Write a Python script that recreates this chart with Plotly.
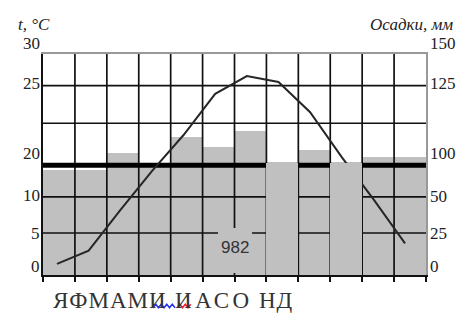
import plotly.graph_objects as go

# ---------------- data ----------------
months = ["Я", "Ф", "М", "А", "М", "И", "И", "А", "С", "О", "Н", "Д"]
temperature = [1.5, 3.3, 8.8, 14.1, 19.0, 24.6, 27.0, 26.2, 22.1, 16.0, 10.3, 4.3]   # on 0-30 axis
precipitation = [71, 71, 83, 75, 94, 87, 98, 76, 85, 76, 80, 80]                   # on 0-150 axis
front_months = [7, 9]          # bars that are drawn over the grid
total_label = "982"
temp_tick_labels = ["30", "25", "20", "10", "5", "0"]
precip_tick_labels = ["150", "125", "100", "50", "25", "0"]
grid_temp = [25.7, 20.6, 10.6, 5.7]   # thin horizontal grid lines (temperature units)
thick_temp = 14.9                     # thick horizontal line
TEMP_MAX, PREC_MAX = 30, 150
RATIO = PREC_MAX / TEMP_MAX

# ---------------- geometry helpers (page pixels -> paper) ----------------
OFF = 8                      # body margin of the html page
W, H = 473 - OFF, 318 - OFF
PLOT_X0, PLOT_X1, PLOT_Y0, PLOT_Y1 = 43, 426, 54, 275   # page pixels
L = PLOT_X0 - OFF
T = PLOT_Y0 - OFF
PW = PLOT_X1 - PLOT_X0
PH = PLOT_Y1 - PLOT_Y0
R = W - L - PW
B = H - T - PH


def px(x):
    return (x - PLOT_X0) / PW


def py(y):
    return (PLOT_Y1 - y) / PH


idx = list(range(len(months)))

fig = go.Figure()

# base bars (under the grid)
base_vals = [None if i in front_months else v for i, v in enumerate(precipitation)]
fig.add_trace(go.Bar(x=idx, y=base_vals, width=1, marker=dict(color="#c0c0c0", line=dict(width=0)),
                     xaxis="x", yaxis="y", showlegend=False, hoverinfo="skip"))

# grid lines (above base bars)
gx, gy = [], []
for g in grid_temp:
    gx += [-0.5, len(months) - 0.5, None]
    gy += [g * RATIO, g * RATIO, None]
for k in range(1, len(months)):
    gx += [k - 0.5, k - 0.5, None]
    gy += [0, PREC_MAX, None]
fig.add_trace(go.Scatter(x=gx, y=gy, mode="lines", line=dict(color="#111111", width=1.7),
                         xaxis="x", yaxis="y", showlegend=False, hoverinfo="skip"))
fig.add_trace(go.Scatter(x=[-0.5, len(months) - 0.5], y=[thick_temp * RATIO] * 2, mode="lines",
                         line=dict(color="#000000", width=5),
                         xaxis="x", yaxis="y", showlegend=False, hoverinfo="skip"))

# temperature line
fig.add_trace(go.Scatter(x=idx, y=temperature, mode="lines", line=dict(color="#262626", width=2),
                         xaxis="x2", yaxis="y2", showlegend=False, hoverinfo="skip"))

# front bars (over everything)
fig.add_trace(go.Bar(x=front_months, y=[precipitation[i] for i in front_months], width=1,
                     marker=dict(color="#c0c0c0", line=dict(width=0)),
                     xaxis="x3", yaxis="y3", showlegend=False, hoverinfo="skip"))

serif = "Liberation Serif, Times New Roman, serif"
ann = []
left_y = [44, 83, 153, 195, 233, 266]
right_y = [44, 83, 153, 196, 233, 266]
for t, yy in zip(temp_tick_labels, left_y):
    ann.append(dict(x=px(41), y=py(yy), xref="paper", yref="paper", text=t, showarrow=False,
                    xanchor="right", yanchor="middle", borderpad=0,
                    font=dict(family=serif, size=17, color="#222")))
for t, yy in zip(precip_tick_labels, right_y):
    ann.append(dict(x=px(429), y=py(yy), xref="paper", yref="paper", text=t, showarrow=False,
                    xanchor="left", yanchor="middle", borderpad=0,
                    font=dict(family=serif, size=17, color="#222")))
ann.append(dict(x=px(17), y=py(24), xref="paper", yref="paper", text="<i>t, °C</i>", showarrow=False,
                xanchor="left", yanchor="middle", borderpad=0,
                font=dict(family=serif, size=17, color="#222")))
ann.append(dict(x=px(454), y=py(24), xref="paper", yref="paper", text="<i>Осадки, мм</i>", showarrow=False,
                xanchor="right", yanchor="middle", borderpad=0,
                font=dict(family=serif, size=17, color="#222")))
# total precipitation box
ann.append(dict(x=px(235), y=py(250.5), xref="paper", yref="paper", text=" ", showarrow=False,
                width=34, height=45, bgcolor="#c0c0c0", borderpad=0, borderwidth=0,
                xanchor="center", yanchor="middle"))
ann.append(dict(x=px(235), y=py(247), xref="paper", yref="paper", text=total_label, showarrow=False,
                xanchor="center", yanchor="middle",
                font=dict(family="Liberation Sans Narrow, Liberation Sans, Arial, sans-serif", size=17, color="#333")))
# month letters, in three groups as in the original
groups = [(months[:6], 52, 1.0), (months[6:10], 174, 3.4), (months[10:], 258, 1.0)]
for letters, x0, sp in groups:
    ann.append(dict(x=px(x0), y=py(300), xref="paper", yref="paper",
                    text=f"<span style='letter-spacing:{sp}px'>{''.join(letters)}</span>",
                    showarrow=False, xanchor="left", yanchor="middle", borderpad=0,
                    font=dict(family=serif, size=23, color="#333")))


def wave(x0, x1, yc, amp=1.7, half=2.75):
    pts = []
    x = x0
    s = 1
    while x <= x1 + 0.01:
        pts.append((x, yc + s * amp))
        x += half
        s = -s
    return "M " + " L ".join(f"{px(a):.5f},{py(b):.5f}" for a, b in pts)


shapes = [
    dict(type="path", xref="paper", yref="paper", path=wave(153, 175, 306), line=dict(color="#2233ee", width=1.5)),
    dict(type="path", xref="paper", yref="paper", path=wave(177, 192, 306), line=dict(color="#ee2233", width=1.5)),
]

fig.update_layout(
    width=W, height=H,
    margin=dict(l=L, r=R, t=T, b=B, pad=0),
    paper_bgcolor="white", plot_bgcolor="white",
    showlegend=False, bargap=0,
    xaxis=dict(range=[-0.5, len(months) - 0.5], tickvals=[k - 0.5 for k in range(len(months) + 1)],
               ticks="outside", ticklen=5, tickwidth=1.5, tickcolor="#111", showticklabels=False,
               showgrid=False, zeroline=False, showline=True, linecolor="#111", linewidth=2, anchor="y"),
    yaxis=dict(range=[0, PREC_MAX], showgrid=False, zeroline=False, showticklabels=False, ticks="",
               showline=True, linecolor="#111", linewidth=2, anchor="x"),
    xaxis2=dict(range=[-0.4425, 11.663], overlaying="x", side="top", anchor="y2", showgrid=False,
                zeroline=False, showticklabels=False, ticks="", showline=True, linecolor="#999", linewidth=1.5),
    yaxis2=dict(range=[0, TEMP_MAX], overlaying="y", side="right", anchor="x2", showgrid=False,
                zeroline=False, showticklabels=False, ticks="", showline=True, linecolor="#999", linewidth=1.5),
    xaxis3=dict(range=[-0.5, len(months) - 0.5], overlaying="x", anchor="y3", visible=False),
    yaxis3=dict(range=[0, PREC_MAX], overlaying="y", anchor="x3", visible=False),
    annotations=ann,
    shapes=shapes,
)

fig.write_html("out.html")
